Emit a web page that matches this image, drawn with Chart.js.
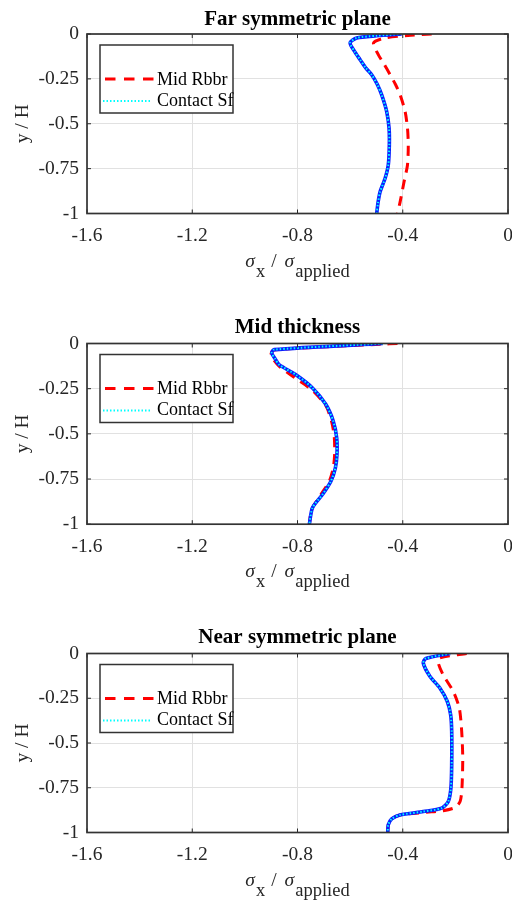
<!DOCTYPE html>
<html><head><meta charset="utf-8">
<script src="https://cdn.jsdelivr.net/npm/chart.js@4"></script>
<style>
html,body{margin:0;padding:0;background:#fff;width:512px;height:901px;overflow:hidden;position:relative;}
canvas{position:absolute;left:0;}
</style></head><body>
<canvas id="c1" width="512" height="300" style="top:0px;width:512px;height:300px"></canvas>
<canvas id="c2" width="512" height="300" style="top:310px;width:512px;height:300px"></canvas>
<canvas id="c3" width="512" height="281" style="top:620px;width:512px;height:281px"></canvas>
<script>
// ---------- data ----------
const panelTitles = ['Far symmetric plane', 'Mid thickness', 'Near symmetric plane'];
const seriesNames = ['Mid Rbbr', 'Contact Sf'];
const xTickValues = [-1.6, -1.2, -0.8, -0.4, 0];
const xTickLabels = ['-1.6', '-1.2', '-0.8', '-0.4', '0'];
const yTickValues = [-1, -0.75, -0.5, -0.25, 0];
const yTickLabels = ['-1', '-0.75', '-0.5', '-0.25', '0'];
const yAxisTitle = 'y / H';
const xAxisTitleParts = ['\u03C3', 'x', '/', '\u03C3', 'applied'];

// Far symmetric plane
const farRbbrX = [-0.29, -0.38, -0.467, -0.511, -0.493, -0.47, -0.448, -0.428, -0.41, -0.391, -0.382, -0.379, -0.382, -0.395, -0.41, -0.42];
const farRbbrY = [0, -0.008, -0.022, -0.05, -0.115, -0.17, -0.227, -0.28, -0.339, -0.432, -0.525, -0.618, -0.73, -0.823, -0.935, -1];
const farSfX = [-0.404, -0.50, -0.575, -0.600, -0.582, -0.562, -0.540, -0.518, -0.497, -0.480, -0.461, -0.452, -0.451, -0.455, -0.467, -0.486, -0.494, -0.499];
const farSfY = [0, -0.01, -0.022, -0.05, -0.1, -0.143, -0.19, -0.227, -0.28, -0.339, -0.432, -0.525, -0.618, -0.73, -0.804, -0.879, -0.94, -1];

// Mid thickness
const midRbbrX = [-0.42, -0.48, -0.889, -0.901, -0.870, -0.813, -0.743, -0.692, -0.669, -0.66, -0.659, -0.664, -0.679, -0.711, -0.746, -0.755];
const midRbbrY = [0, -0.004, -0.036, -0.065, -0.125, -0.187, -0.26, -0.345, -0.44, -0.522, -0.614, -0.688, -0.762, -0.836, -0.918, -1];
const midSfX = [-0.476, -0.889, -0.898, -0.885, -0.870, -0.806, -0.743, -0.692, -0.664, -0.651, -0.65, -0.656, -0.673, -0.705, -0.743, -0.755];
const midSfY = [0, -0.034, -0.053, -0.085, -0.117, -0.173, -0.246, -0.338, -0.43, -0.522, -0.614, -0.688, -0.762, -0.836, -0.909, -1];

// Near symmetric plane
const nearRbbrX = [-0.157, -0.259, -0.265, -0.246, -0.208, -0.185, -0.176, -0.172, -0.175, -0.182, -0.202, -0.246, -0.309, -0.411, -0.442, -0.455, -0.457];
const nearRbbrY = [0, -0.025, -0.053, -0.12, -0.212, -0.305, -0.435, -0.585, -0.752, -0.827, -0.861, -0.878, -0.887, -0.902, -0.924, -0.957, -1];
const nearSfX = [-0.22, -0.312, -0.322, -0.297, -0.259, -0.231, -0.218, -0.214, -0.214, -0.217, -0.227, -0.252, -0.322, -0.411, -0.442, -0.455, -0.457];
const nearSfY = [0, -0.028, -0.053, -0.127, -0.193, -0.267, -0.342, -0.435, -0.622, -0.752, -0.827, -0.864, -0.883, -0.902, -0.924, -0.957, -1];

// ---------- styling / layout ----------
const FONT = "'Liberation Serif', 'Times New Roman', serif";
const AX_COLOR = '#262626';
const RED = '#ff0000', BLUE = '#0a1eff', CYAN = '#00ffff';
const RED_DASH = [10, 7], LEG_RED_DASH = [10.5, 8.5], CYAN_DASH = [1.5, 2];
const TITLE_SIZE = 21, TICK_SIZE = 19.5;

const panels = [
  {id: 'c1', title: panelTitles[0], h: 300, chartTop: 34,   chartBottom: 213.5, titleCenter: 19.2, red: [farRbbrX, farRbbrY],  sf: [farSfX, farSfY]},
  {id: 'c2', title: panelTitles[1], h: 300, chartTop: 33.5, chartBottom: 214.2, titleCenter: 18.0, red: [midRbbrX, midRbbrY],  sf: [midSfX, midSfY]},
  {id: 'c3', title: panelTitles[2], h: 281, chartTop: 33.5, chartBottom: 212.5, titleCenter: 17.5, red: [nearRbbrX, nearRbbrY], sf: [nearSfX, nearSfY]}
];

const pairs = (xs, ys) => xs.map((x, i) => ({x: x, y: ys[i]}));

const frameAndLegend = {
  id: 'frameAndLegend',
  afterDatasetsDraw(chart) {
    const {ctx, chartArea: ca, scales} = chart;
    ctx.save();
    ctx.strokeStyle = AX_COLOR;
    ctx.lineWidth = 1;
    ctx.beginPath();
    xTickValues.forEach(v => {
      const px = scales.x.getPixelForValue(v);
      ctx.moveTo(px, ca.bottom); ctx.lineTo(px, ca.bottom - 4);
      ctx.moveTo(px, ca.top); ctx.lineTo(px, ca.top + 4);
    });
    yTickValues.forEach(v => {
      const py = scales.y.getPixelForValue(v);
      ctx.moveTo(ca.left, py); ctx.lineTo(ca.left + 4, py);
      ctx.moveTo(ca.right, py); ctx.lineTo(ca.right - 4, py);
    });
    ctx.stroke();
    ctx.strokeStyle = '#333333';
    ctx.lineWidth = 1.7;
    ctx.strokeRect(ca.left, ca.top, ca.right - ca.left, ca.bottom - ca.top);
    ctx.restore();
  },
  afterDraw(chart) {
    const {ctx, chartArea: ca} = chart;
    ctx.save();
    const lx = ca.left + 13, ly = ca.top + 11, lw = 133, lh = 68;
    ctx.fillStyle = '#ffffff';
    ctx.fillRect(lx, ly, lw, lh);
    ctx.strokeStyle = '#333333';
    ctx.lineWidth = 1.5;
    ctx.strokeRect(lx, ly, lw, lh);
    ctx.lineCap = 'butt';
    ctx.strokeStyle = RED; ctx.lineWidth = 3; ctx.setLineDash(LEG_RED_DASH);
    ctx.beginPath(); ctx.moveTo(ca.left + 18, ca.top + 45); ctx.lineTo(ca.left + 67.5, ca.top + 45); ctx.stroke();
    ctx.strokeStyle = CYAN; ctx.lineWidth = 2; ctx.setLineDash(CYAN_DASH);
    ctx.beginPath(); ctx.moveTo(ca.left + 16, ca.top + 67); ctx.lineTo(ca.left + 65, ca.top + 67); ctx.stroke();
    ctx.setLineDash([]);
    ctx.fillStyle = '#000000';
    ctx.font = '18px ' + FONT;
    ctx.textAlign = 'left';
    ctx.textBaseline = 'alphabetic';
    ctx.fillText(seriesNames[0], ca.left + 70, ca.top + 50.5);
    ctx.fillText(seriesNames[1], ca.left + 70, ca.top + 71.5);

    const mainF = 'italic 19.5px ' + FONT, upF = '19.5px ' + FONT, subF = '18.5px ' + FONT;
    const parts = [
      {t: xAxisTitleParts[0], f: mainF, sub: false, gapAfter: 1},
      {t: xAxisTitleParts[1], f: subF, sub: true, gapAfter: 6},
      {t: xAxisTitleParts[2], f: upF, sub: false, gapAfter: 8},
      {t: xAxisTitleParts[3], f: mainF, sub: false, gapAfter: 1},
      {t: xAxisTitleParts[4], f: subF, sub: true, gapAfter: 0}
    ];
    let total = 0;
    parts.forEach(p => { ctx.font = p.f; p.w = ctx.measureText(p.t).width; total += p.w + p.gapAfter; });
    let x = (ca.left + ca.right) / 2 - total / 2;
    const baseMain = ca.bottom + 53, baseSub = ca.bottom + 63;
    ctx.fillStyle = AX_COLOR;
    parts.forEach(p => {
      ctx.font = p.f;
      ctx.fillText(p.t, x, p.sub ? baseSub : baseMain);
      x += p.w + p.gapAfter;
    });
    ctx.restore();
  }
};

panels.forEach(p => {
  const lineH = TITLE_SIZE * 1.2;
  const tPadTop = p.titleCenter - lineH / 2;
  const tPadBottom = p.chartTop - tPadTop - lineH;
  new Chart(document.getElementById(p.id), {
    type: 'line',
    data: {
      datasets: [
        {label: seriesNames[0], data: pairs(p.red[0], p.red[1]), borderColor: RED, borderWidth: 3,
         borderDash: RED_DASH, pointRadius: 0, tension: 0.25, fill: false, order: 3},
        {label: seriesNames[1] + ' (base)', data: pairs(p.sf[0], p.sf[1]), borderColor: BLUE, borderWidth: 3.6,
         pointRadius: 0, tension: 0.25, fill: false, order: 2},
        {label: seriesNames[1], data: pairs(p.sf[0], p.sf[1]), borderColor: CYAN, borderWidth: 2,
         borderDash: CYAN_DASH, pointRadius: 0, tension: 0.25, fill: false, order: 1}
      ]
    },
    options: {
      responsive: false,
      animation: false,
      events: [],
      layout: {padding: {left: 0, right: 4, top: 0, bottom: p.h - p.chartBottom - 40}},
      plugins: {
        legend: {display: false},
        tooltip: {enabled: false},
        title: {display: true, text: p.title, fullSize: false, color: '#000000',
                font: {family: FONT, size: TITLE_SIZE, weight: 'bold', lineHeight: 1.2},
                padding: {top: tPadTop, bottom: tPadBottom}}
      },
      scales: {
        x: {
          type: 'linear', min: -1.6, max: 0,
          afterBuildTicks: s => { s.ticks = xTickValues.map(v => ({value: v})); },
          afterFit: s => { s.height = 40; s.paddingLeft = 0; s.paddingRight = 0; },
          ticks: {callback: (v, i) => xTickLabels[i], color: AX_COLOR, padding: 10.5, maxRotation: 0, autoSkip: false,
                  font: {family: FONT, size: TICK_SIZE}},
          grid: {color: '#e1e1e1', lineWidth: 1, drawTicks: false},
          border: {display: false}
        },
        y: {
          type: 'linear', min: -1, max: 0,
          afterBuildTicks: s => { s.ticks = yTickValues.map(v => ({value: v})); },
          afterFit: s => { s.width = 87; },
          ticks: {callback: (v, i) => yTickLabels[i], color: AX_COLOR, padding: 8, autoSkip: false,
                  font: {family: FONT, size: TICK_SIZE}},
          grid: {color: '#e1e1e1', lineWidth: 1, drawTicks: false},
          border: {display: false},
          title: {display: true, text: yAxisTitle, color: AX_COLOR, font: {family: FONT, size: 19.5},
                  padding: {top: 11.5, bottom: 0}}
        }
      }
    },
    plugins: [frameAndLegend]
  });
});
</script>
</body></html>
